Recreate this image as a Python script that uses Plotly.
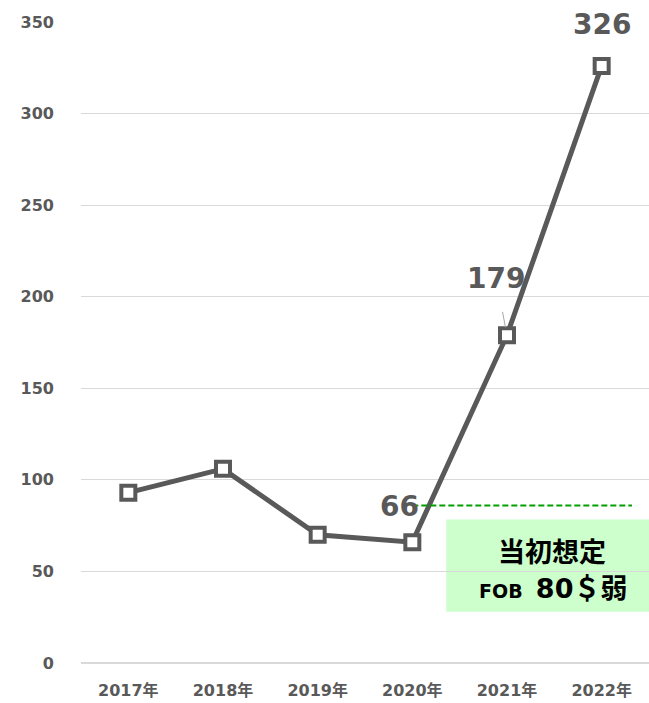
import plotly.graph_objects as go

years = ['2017年', '2018年', '2019年', '2020年', '2021年', '2022年']
prices = [93, 106, 70, 66, 179, 326]
assumed_price = 86
box_title = '当初想定'
box_value = '80＄弱'

grey = '#595959'
font_family = 'DejaVu Sans, Noto Sans CJK JP'

fig = go.Figure()

fig.add_trace(go.Scatter(
    x=years, y=prices,
    mode='lines+markers',
    line=dict(color=grey, width=5),
    marker=dict(symbol='square', size=14, color='white',
                line=dict(color=grey, width=4)),
    cliponaxis=False,
    showlegend=False,
))

# dashed "assumed" level from 2020 to the right edge
fig.add_shape(type='line', xref='x', yref='y',
              x0=3, x1=5.32, y0=assumed_price, y1=assumed_price,
              line=dict(color='#00a000', width=2, dash='6px,3px'))

# green note box
fig.add_shape(type='rect', xref='paper', yref='paper',
              x0=0.643, x1=1.0, y0=0.080, y1=0.224,
              line=dict(width=0), fillcolor='#ccffcc', layer='below')
fig.add_annotation(xref='paper', yref='paper', x=0.829, y=0.173,
                   xanchor='center', yanchor='middle',
                   text='<b>' + box_title + '</b>', showarrow=False,
                   font=dict(size=27, color='black', family=font_family))
fig.add_annotation(xref='paper', yref='paper', x=0.831, y=0.117,
                   xanchor='center', yanchor='middle',
                   text='<b><span style="font-size:19px">FOB  </span>' + box_value + '</b>',
                   showarrow=False,
                   font=dict(size=27, color='black', family=font_family))

# data labels
lab_font = dict(size=28, color=grey, family=font_family)
fig.add_annotation(x=years[5], y=prices[5], text='<b>326</b>', showarrow=False,
                   yshift=41, font=lab_font)
fig.add_annotation(x=years[4], y=prices[4], text='<b>179</b>', showarrow=True,
                   ax=-11, ay=-57, arrowhead=0, arrowwidth=1, arrowcolor='#a6a6a6',
                   standoff=8, startstandoff=16, font=lab_font)
fig.add_annotation(x=years[3], y=prices[3], text='<b>66</b>', showarrow=False,
                   xshift=-13, yshift=36, font=lab_font)

fig.update_layout(
    width=649, height=703,
    margin=dict(l=81, r=0, t=22, b=40),
    paper_bgcolor='white', plot_bgcolor='white',
    font=dict(family=font_family, color=grey),
    xaxis=dict(showgrid=False, showline=False, zeroline=False,
               tickfont=dict(size=16, color=grey, weight='bold'),
               ticklabelstandoff=16, range=[-0.5, 5.5]),
    yaxis=dict(range=[0, 350], dtick=50, gridcolor='#d9d9d9', gridwidth=1,
               zeroline=True, zerolinecolor='#d9d9d9', showline=False,
               tickfont=dict(size=16, color=grey, weight='bold'),
               ticklabelstandoff=26),
)

fig.write_html("out.html", config={'displayModeBar': False},
               post_script="document.body.style.margin='0';")
